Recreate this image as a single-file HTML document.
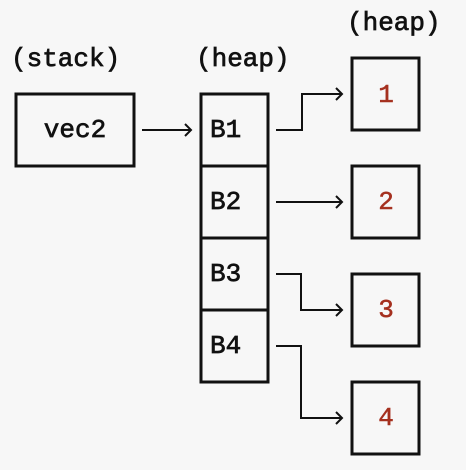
<!DOCTYPE html>
<html><head><style>html,body{margin:0;padding:0;background:#f7f7f7;}</style></head>
<body>
<svg width="466" height="470" xmlns="http://www.w3.org/2000/svg" style="display:block">
<rect width="466" height="470" fill="#f7f7f7"/>
<g font-family="Liberation Mono, DejaVu Sans Mono, monospace" font-size="26" fill="#111" stroke="#111" stroke-width="0.7">
<text x="11" y="66">(stack)</text>
<text x="196" y="66">(heap)</text>
<text x="347" y="30">(heap)</text>
</g>
<g fill="none" stroke="#111" stroke-width="3">
<rect x="16" y="94" width="118" height="72"/>
<rect x="201" y="94" width="67" height="72"/>
<rect x="201" y="166" width="67" height="72"/>
<rect x="201" y="238" width="67" height="72"/>
<rect x="201" y="310" width="67" height="72"/>
<rect x="352" y="58" width="67" height="72"/>
<rect x="352" y="166" width="67" height="72"/>
<rect x="352" y="274" width="67" height="72"/>
<rect x="352" y="382" width="67" height="72"/>
</g>
<g fill="none" stroke="#111" stroke-width="2">
<path d="M142 130H191M185 124L191 130L185 136"/>
<path d="M276 130H302V94H342M336 88L342 94L336 100"/>
<path d="M276 202H342M336 196L342 202L336 208"/>
<path d="M276 274H301V310H342M336 304L342 310L336 316"/>
<path d="M276 346H301V418H342M336 412L342 418L336 424"/>
</g>
<g font-family="Liberation Mono, DejaVu Sans Mono, monospace" font-size="26" fill="#111" stroke="#111" stroke-width="0.7" dominant-baseline="central">
<text x="75" y="130" text-anchor="middle">vec2</text>
<text x="210" y="130">B1</text>
<text x="210" y="202">B2</text>
<text x="210" y="274">B3</text>
<text x="210" y="346">B4</text>
</g>
<g font-family="Liberation Mono, DejaVu Sans Mono, monospace" font-size="26" fill="#a5301f" stroke="#a5301f" stroke-width="0.5" text-anchor="middle" dominant-baseline="central">
<text x="386" y="95">1</text>
<text x="386" y="202">2</text>
<text x="386" y="310">3</text>
<text x="386" y="418">4</text>
</g>
</svg>
</body></html>
